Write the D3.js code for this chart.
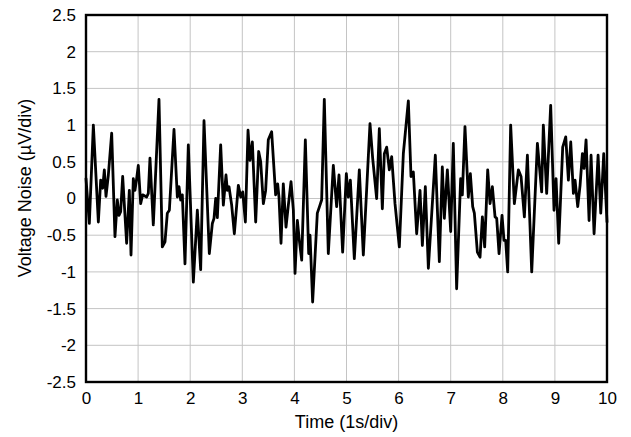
<!DOCTYPE html>
<html>
<head>
<meta charset="utf-8">
<script src="https://cdn.jsdelivr.net/npm/d3@7"></script>
<style>
  html, body { margin: 0; padding: 0; background: #fff; }
  svg text { font-family: Arial, "Liberation Sans", Helvetica, sans-serif; fill: #000; }
</style>
</head>
<body>
<svg id="chart" width="631" height="437"></svg>
<script>
// Voltage noise trace, 0.1 Hz to 10 Hz, 1 s per division
const timeSec = [
  0.0, 0.064, 0.141, 0.237, 0.282, 0.32, 0.352, 0.384, 0.429, 0.493, 0.556, 0.601, 0.633, 0.665, 0.704, 0.78, 0.832, 0.864, 0.908, 0.94, 0.972,
  1.004, 1.049, 1.087, 1.164, 1.196, 1.228, 1.292, 1.401, 1.465, 1.516, 1.561, 1.6, 1.689, 1.753, 1.785, 1.817, 1.849, 1.9, 1.964,
  2.06, 2.137, 2.201, 2.265, 2.367, 2.425, 2.457, 2.489, 2.521, 2.585, 2.636, 2.687, 2.713, 2.745, 2.796, 2.847, 2.924, 2.969,
  3.008, 3.059, 3.11, 3.148, 3.193, 3.257, 3.314, 3.353, 3.404, 3.448, 3.499, 3.563, 3.64, 3.679, 3.704, 3.743, 3.787, 3.839, 3.884, 3.935, 3.98,
  4.012, 4.057, 4.095, 4.14, 4.21, 4.274, 4.3, 4.35, 4.44, 4.491, 4.523, 4.574, 4.651, 4.747, 4.811, 4.856, 4.926, 4.997,
  5.035, 5.074, 5.15, 5.246, 5.323, 5.451, 5.502, 5.579, 5.63, 5.688, 5.726, 5.771, 5.822, 5.867, 5.931,
  6.014, 6.091, 6.187, 6.238, 6.283, 6.347, 6.411, 6.456, 6.513, 6.571, 6.705, 6.782, 6.839, 6.878, 6.936,
  7.0, 7.05, 7.114, 7.191, 7.223, 7.274, 7.338, 7.377, 7.422, 7.454, 7.512, 7.563, 7.608, 7.652, 7.71, 7.755, 7.8, 7.851, 7.883, 7.928, 7.985,
  8.023, 8.055, 8.094, 8.151, 8.222, 8.299, 8.35, 8.414, 8.472, 8.555, 8.664, 8.746, 8.778, 8.842, 8.919, 8.983,
  9.022, 9.073, 9.15, 9.208, 9.259, 9.304, 9.355, 9.387, 9.438, 9.483, 9.528, 9.56, 9.598, 9.656, 9.694, 9.752, 9.829, 9.88, 9.937, 10.0
];
const noiseUV = [
  0.27, -0.34, 1.0, -0.32, 0.25, 0.14, 0.39, 0.03, 0.32, 0.89, -0.52, -0.02, -0.23, -0.18, 0.30, -0.61, 0.11, -0.77, 0.27, 0.11, 0.27,
  0.45, -0.07, 0.05, 0.02, 0.07, 0.55, -0.36, 1.35, -0.66, -0.59, -0.2, -0.16, 0.94, 0.02, 0.16, -0.02, 0.05, -0.89, 0.73,
  -1.14, -0.16, -0.97, 1.06, -0.75, -0.34, -0.27, 0.0, -0.26, 0.73, -0.09, 0.32, 0.11, 0.16, -0.09, -0.48, 0.18, 0.02,
  0.09, -0.32, 0.93, 0.52, 0.77, -0.32, 0.64, 0.5, -0.07, 0.11, 0.8, 0.91, 0.05, 0.2, 0.02, -0.61, 0.2, -0.39, -0.09, 0.23, -0.16,
  -1.02, -0.3, -0.57, -0.84, 0.8, -0.75, -0.5, -1.41, -0.2, -0.09, -0.02, 1.35, -0.75, 0.45, -0.11, 0.32, -0.73, 0.34,
  0.02, 0.25, -0.82, 0.39, -0.77, 1.02, 0.55, 0.0, 0.95, -0.14, 0.61, 0.7, 0.39, 0.57, -0.07,
  -0.66, 0.61, 1.33, 0.3, 0.36, -0.48, 0.11, -0.64, 0.16, -0.95, 0.59, -0.86, 0.43, -0.27, 0.39,
  -0.45, 0.75, -1.23, 0.27, 0.05, 0.98, 0.02, 0.34, -0.11, -0.2, -0.73, -0.8, -0.25, -0.66, 0.39, -0.07, 0.16, -0.25, -0.27, -0.75, -0.23,
  -0.57, -0.57, -1.0, 1.0, -0.07, 0.39, 0.3, -0.25, 0.59, -1.0, 0.75, 0.09, 1.0, 0.07, 1.27, -0.16,
  0.27, -0.61, 0.7, 0.84, 0.25, 0.77, 0.07, 0.25, -0.11, 0.18, 0.61, 0.41, 0.8, -0.3, 0.59, -0.48, 0.59, -0.2, 0.61, -0.32
];
const xTicks = [0, 1, 2, 3, 4, 5, 6, 7, 8, 9, 10];
const yTicks = [-2.5, -2, -1.5, -1, -0.5, 0, 0.5, 1, 1.5, 2, 2.5];
const xTitle = "Time (1s/div)";
const yTitle = "Voltage Noise (\u00B5V/div)";

const margin = { left: 86, top: 15, right: 24, bottom: 55 };
const W = 631, H = 437;
const pw = W - margin.left - margin.right;
const ph = H - margin.top - margin.bottom;

const svg = d3.select("#chart");
const g = svg.append("g").attr("transform", `translate(${margin.left},${margin.top})`);

const x = d3.scaleLinear().domain([0, 10]).range([0, pw]);
const y = d3.scaleLinear().domain([-2.5, 2.5]).range([ph, 0]);

// grid
g.append("g").selectAll("line").data(xTicks.slice(1, -1)).join("line")
  .attr("x1", d => x(d)).attr("x2", d => x(d)).attr("y1", 0).attr("y2", ph)
  .attr("stroke", "#c4c4c4").attr("stroke-width", 1);
g.append("g").selectAll("line").data(yTicks.slice(1, -1)).join("line")
  .attr("y1", d => y(d)).attr("y2", d => y(d)).attr("x1", 0).attr("x2", pw)
  .attr("stroke", "#c4c4c4").attr("stroke-width", 1);

// axes (labels only)
const tickFs = 17, titleFs = 18;
const xAxis = g.append("g").attr("transform", `translate(0,${ph})`)
  .call(d3.axisBottom(x).tickValues(xTicks).tickSize(0).tickPadding(10).tickFormat(d3.format("d")));
const yAxis = g.append("g")
  .call(d3.axisLeft(y).tickValues(yTicks).tickSize(0).tickPadding(10).tickFormat(d => String(d)));
[xAxis, yAxis].forEach(a => {
  a.select(".domain").remove();
  a.selectAll("text").attr("font-size", tickFs).attr("font-family", "Arial, 'Liberation Sans', sans-serif").attr("fill", "#000");
});

// trace
const pts = timeSec.map((t, i) => [t, noiseUV[i]]);
const line = d3.line().x(d => x(d[0])).y(d => y(d[1]));
g.append("path").datum(pts)
  .attr("d", line)
  .attr("fill", "none").attr("stroke", "#000").attr("stroke-width", 2.8)
  .attr("stroke-linejoin", "round").attr("stroke-linecap", "round");

// frame
g.append("rect").attr("x", 0).attr("y", 0).attr("width", pw).attr("height", ph)
  .attr("fill", "none").attr("stroke", "#000").attr("stroke-width", 2.4);

// titles
svg.append("text").attr("x", margin.left + pw / 2).attr("y", 428)
  .attr("text-anchor", "middle").attr("font-size", titleFs).text(xTitle);
svg.append("text").attr("transform", `translate(31,188) rotate(-90)`)
  .attr("text-anchor", "middle").attr("font-size", titleFs).text(yTitle);
</script>
</body>
</html>
